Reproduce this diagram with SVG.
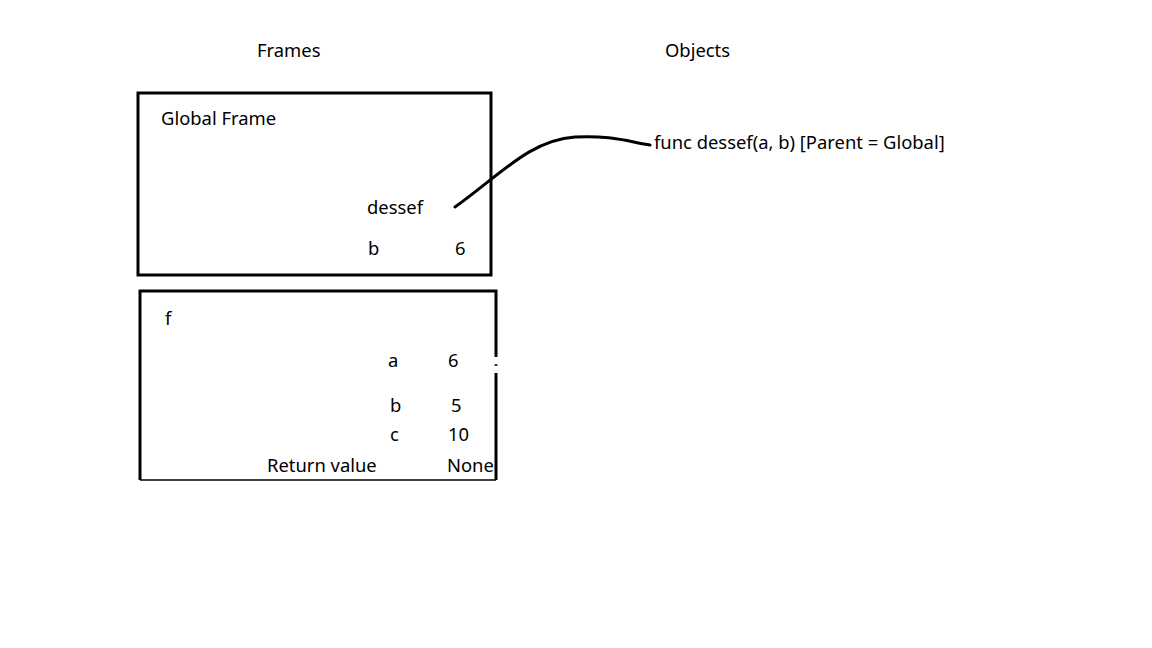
<svg xmlns="http://www.w3.org/2000/svg" width="1152" height="648" viewBox="0 0 1152 648">
<style>
text{font-family:"Noto Sans","Open Sans","Liberation Sans",sans-serif;font-size:18.4px;fill:#000}
.frame{fill:none;stroke:#000;stroke-width:3}
.conn{fill:none;stroke:#000;stroke-width:3;stroke-linecap:round}
</style>
<rect width="1152" height="648" fill="#fff"/>
<g id="headers">
<text x="257" y="57">Frames</text>
<text x="665" y="57">Objects</text>
</g>
<g id="global-frame">
<rect class="frame" x="138" y="93" width="353" height="182"/>
<text x="161" y="125">Global Frame</text>
<text x="367" y="214">dessef</text>
<text x="368" y="255">b</text>
<text x="455" y="255">6</text>
</g>
<g id="f-frame">
<path class="frame" d="M140,480 V291 H496 V357"/>
<path class="frame" d="M496,373 V480"/>
<line x1="140" y1="480" x2="496" y2="480" stroke="#000" stroke-width="1.5"/>
<line x1="494.5" y1="365" x2="497.5" y2="365" stroke="#000" stroke-width="1.5"/>
<text x="165" y="325">f</text>
<text x="388" y="367">a</text>
<text x="448" y="367">6</text>
<text x="390" y="412">b</text>
<text x="451" y="412">5</text>
<text x="390" y="441">c</text>
<text x="448" y="441">10</text>
<text x="267" y="472">Return value</text>
<text x="447" y="472">None</text>
</g>
<g id="func-object">
<text x="654" y="149">func dessef(a, b) [Parent = Global]</text>
</g>
<g id="connectors">
<path class="conn" d="M455,207 C500,175 530,140 575,137 C610,135 630,142 650,145"/>
</g>
</svg>
